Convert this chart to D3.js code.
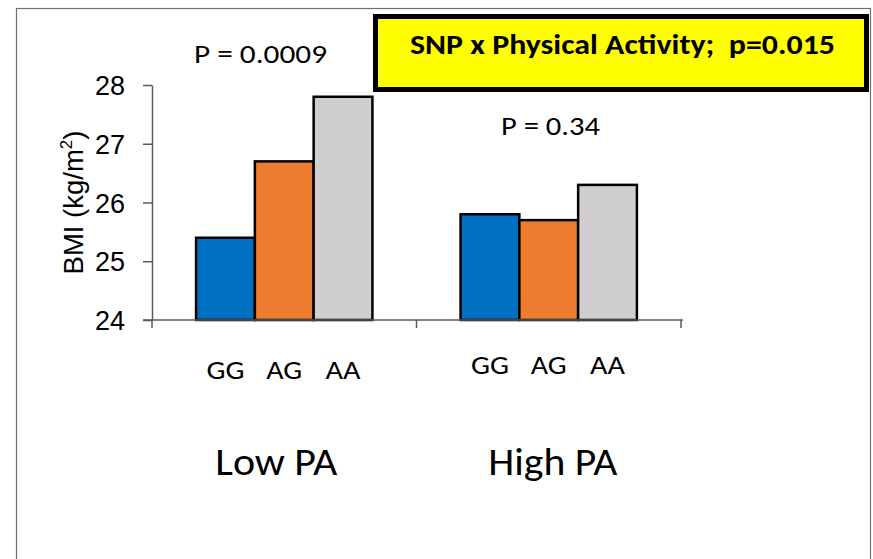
<!DOCTYPE html>
<html>
<head>
<meta charset="utf-8">
<script src="https://cdn.jsdelivr.net/npm/d3@7"></script>
<style>
  html, body { margin: 0; padding: 0; background: #fff; }
  svg { display: block; }
</style>
</head>
<body>
<svg id="chart" width="873" height="559"></svg>
<script>
// ---- data ----
const groups = ["Low PA", "High PA"];
const genotypes = ["GG", "AG", "AA"];
const lowPA = [25.4, 26.7, 27.8];
const highPA = [25.8, 25.7, 26.3];
const groupValues = [lowPA, highPA];
const groupPValues = ["P = 0.0009", "P = 0.34"];
const yTicks = [24, 25, 26, 27, 28];
const yLabel = "BMI (kg/m";
const yLabelSup = "2";
const interactionNote = "SNP x Physical Activity;  p=0.015";
const genotypeColors = ["#0070C0", "#ED7D31", "#D0CECE"];

// ---- layout ----
const plot = { left: 152, right: 681, top: 85, bottom: 320 };
const calibriLike = "Carlito, Calibri, Lato, 'Open Sans', sans-serif";
const arialLike = "Arial, 'Liberation Sans', sans-serif";
const axisColor = "#5a5a5a";

const svg = d3.select("#chart");

// page frame
svg.append("rect")
  .attr("x", 16.5).attr("y", 8.5)
  .attr("width", 854).attr("height", 600)
  .attr("fill", "none").attr("stroke", "#707070").attr("stroke-width", 1.2);

// scales
const y = d3.scaleLinear().domain([24, 28]).range([plot.bottom, plot.top]);
const xGroup = d3.scaleBand().domain(groups).range([plot.left, plot.right]).padding(0);
const xGeno = d3.scaleBand().domain(genotypes).range([0, xGroup.bandwidth()])
  .paddingInner(0).paddingOuter(0.75);

// bars
const gBars = svg.append("g");
groups.forEach((grp, gi) => {
  gBars.append("g")
    .attr("transform", `translate(${xGroup(grp)},0)`)
    .selectAll("rect")
    .data(genotypes.map((g, i) => ({ g, v: groupValues[gi][i], c: genotypeColors[i] })))
    .join("rect")
      .attr("x", d => xGeno(d.g))
      .attr("y", d => y(d.v))
      .attr("width", xGeno.bandwidth())
      .attr("height", d => y(24) - y(d.v))
      .attr("fill", d => d.c)
      .attr("stroke", "#000")
      .attr("stroke-width", 2.5);
});

// y axis
const yAxis = svg.append("g")
  .attr("transform", `translate(${plot.left},0)`)
  .call(d3.axisLeft(y).tickValues(yTicks).tickSize(9).tickSizeOuter(0).tickPadding(18)
    .tickFormat(d3.format("d")));
yAxis.select(".domain").attr("stroke", axisColor).attr("stroke-width", 1.5);
yAxis.selectAll(".tick line").attr("stroke", axisColor).attr("stroke-width", 1.5);
yAxis.selectAll(".tick text")
  .attr("font-family", arialLike).attr("font-size", 27).attr("fill", "#000")
  .attr("dy", "0.36em");

// x axis: baseline with ticks at group boundaries
const xAxis = svg.append("g");
xAxis.append("line")
  .attr("x1", plot.left - 9).attr("x2", xGroup.range()[1] + 2)
  .attr("y1", y(24)).attr("y2", y(24))
  .attr("stroke", axisColor).attr("stroke-width", 1.5);
const boundaries = groups.map(g => xGroup(g)).concat([xGroup(groups[groups.length - 1]) + xGroup.bandwidth()]);
xAxis.selectAll("line.tk").data(boundaries).join("line")
  .attr("class", "tk")
  .attr("x1", d => d).attr("x2", d => d)
  .attr("y1", y(24)).attr("y2", y(24) + 8)
  .attr("stroke", axisColor).attr("stroke-width", 1.5);

// genotype labels under each bar
const genoBaseline = [379, 374];
const genoWidths = { GG: 38, AG: 36, AA: 35 };
groups.forEach((grp, gi) => {
  svg.append("g").selectAll("text")
    .data(genotypes)
    .join("text")
      .attr("x", g => xGroup(grp) + xGeno(g) + xGeno.bandwidth() / 2)
      .attr("y", genoBaseline[gi])
      .attr("text-anchor", "middle")
      .attr("font-family", calibriLike).attr("font-size", 27)
      .attr("textLength", g => genoWidths[g]).attr("lengthAdjust", "spacingAndGlyphs")
      .text(g => g);
});

// group labels
const groupLabelDx = [-8, 4];
const groupLabelWidths = [122, 129];
svg.append("g").selectAll("text")
  .data(groups)
  .join("text")
    .attr("x", (g, i) => xGroup(g) + xGroup.bandwidth() / 2 + groupLabelDx[i])
    .attr("y", 475)
    .attr("text-anchor", "middle")
    .attr("font-family", calibriLike).attr("font-size", 39)
    .attr("textLength", (g, i) => groupLabelWidths[i]).attr("lengthAdjust", "spacingAndGlyphs")
    .text(g => g);

// per-group p values
const pPos = [{ x: 260.5, y: 63, w: 133 }, { x: 550.5, y: 135, w: 99 }];
svg.append("g").selectAll("text")
  .data(groupPValues)
  .join("text")
    .attr("x", (d, i) => pPos[i].x)
    .attr("y", (d, i) => pPos[i].y)
    .attr("text-anchor", "middle")
    .attr("font-family", calibriLike).attr("font-size", 26.5)
    .attr("textLength", (d, i) => pPos[i].w).attr("lengthAdjust", "spacingAndGlyphs")
    .text(d => d);

// y axis title
const yt = svg.append("text")
  .attr("transform", "translate(83,202.5) rotate(-90)")
  .attr("text-anchor", "middle")
  .attr("font-family", arialLike).attr("font-size", 27.5)
  .attr("fill", "#000");
yt.append("tspan").text(yLabel);
yt.append("tspan").attr("font-size", 17).attr("dy", -11).text(yLabelSup);
yt.append("tspan").attr("dy", 11).text(")");

// interaction callout
svg.append("rect")
  .attr("x", 375.5).attr("y", 16.5)
  .attr("width", 491).attr("height", 73)
  .attr("fill", "#FFFF00").attr("stroke", "#000").attr("stroke-width", 5);
svg.append("text")
  .attr("x", 622.5).attr("y", 54)
  .attr("text-anchor", "middle")
  .style("white-space", "pre")
  .attr("font-family", calibriLike).attr("font-weight", "bold").attr("font-size", 29)
  .attr("textLength", 425).attr("lengthAdjust", "spacingAndGlyphs")
  .text(interactionNote);
</script>
</body>
</html>
